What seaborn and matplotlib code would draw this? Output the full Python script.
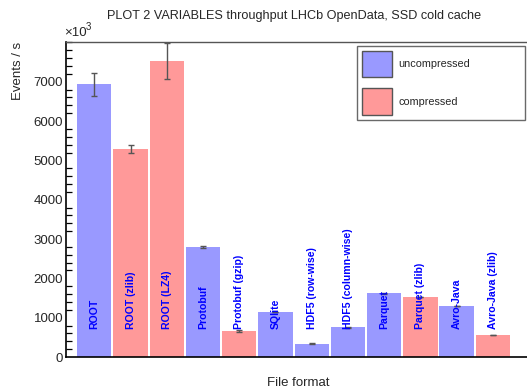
import pandas as pd
import matplotlib
matplotlib.use("Agg")
import matplotlib.pyplot as plt
import seaborn as sns
from matplotlib.patches import Patch

# values
formats = ["ROOT", "ROOT (zlib)", "ROOT (LZ4)", "Protobuf", "Protobuf (gzip)",
           "SQlite", "HDF5 (row-wise)", "HDF5 (column-wise)", "Parquet",
           "Parquet (zlib)", "Avro-Java", "Avro-Java (zlib)"]
kinds = ["uncompressed", "compressed", "compressed", "uncompressed", "compressed",
         "uncompressed", "uncompressed", "uncompressed", "uncompressed",
         "compressed", "uncompressed", "compressed"]
events = [6930, 5290, 7520, 2800, 660, 1145, 340, 760, 1620, 1525, 1295, 560]
errors = [290, 90, 460, 35, 15, 10, 15, 10, 10, 10, 10, 10]

colors = {"uncompressed": "#9999ff", "compressed": "#ff9999"}

df = pd.DataFrame({"format": formats, "kind": kinds, "events": events})

sns.set_theme(style="white")
plt.rcParams["font.family"] = ["Liberation Sans", "DejaVu Sans"]

fig = plt.figure(figsize=(5.27, 3.91), dpi=100)
ax = fig.add_axes([66 / 527, 1 - 357 / 391, 461 / 527, 315 / 391])

sns.barplot(data=df, x="format", y="events", hue="kind", palette=colors,
            dodge=False, width=0.95, ax=ax, legend=False, linewidth=0,
            saturation=1, order=formats)

ax.errorbar(range(len(formats)), events, yerr=errors, fmt="none",
            ecolor="#555555", elinewidth=1, capsize=2, capthick=1, zorder=5)

for i, name in enumerate(formats):
    ax.text(i, 710, name, rotation=90, ha="center", va="bottom",
            color="#0000ff", fontweight="bold", fontsize=7.6, zorder=6)

ax.set_xlim(-0.78, 11.94)
ax.set_ylim(0, 8010)
ax.set_xlabel("")
ax.set_ylabel("")
ax.set_xticks(range(len(formats)))
ax.set_xticklabels([])
ax.tick_params(axis="x", direction="in", length=2, color="#888888")
ax.set_yticks(range(0, 8000, 1000))
ax.set_yticks(range(0, 8001, 200), minor=True)
ax.tick_params(axis="y", which="major", direction="in", length=7, width=1,
               labelsize=9.5, pad=2, color="black")
ax.tick_params(axis="y", which="minor", direction="in", length=4.5, width=0.9,
               color="black", left=True)
for side in ["left", "bottom"]:
    ax.spines[side].set_color("black")
    ax.spines[side].set_linewidth(1.2)
ax.spines["top"].set_color("#555555")
ax.spines["top"].set_linewidth(1.0)
ax.spines["right"].set_visible(False)

handles = [Patch(facecolor=colors["uncompressed"], edgecolor="#555555", label="uncompressed"),
           Patch(facecolor=colors["compressed"], edgecolor="#555555", label="compressed")]
leg = ax.legend(handles=handles, loc="upper left", mode="expand",
                bbox_to_anchor=((357 - 66) / 461, (357 - 46) / 315, 168 / 461, 0),
                bbox_transform=ax.transAxes, fontsize=7.8, frameon=True,
                fancybox=False, handlelength=2.8, handleheight=3.4,
                labelspacing=1.0, borderpad=0.45, handletextpad=0.6,
                borderaxespad=0)
leg.get_frame().set_edgecolor("#444444")
leg.get_frame().set_linewidth(1.0)

fig.text(294.5 / 527, 1 - 16 / 391,
         "PLOT 2 VARIABLES throughput LHCb OpenData, SSD cold cache",
         ha="center", va="center", fontsize=9.1)
fig.text(18 / 527, 1 - 42 / 391, "Events / s", rotation=90, ha="center",
         va="top", fontsize=9.5)
fig.text(64 / 527, 1 - 35.5 / 391, "×10", ha="left", va="baseline", fontsize=9.5)
fig.text(85.5 / 527, 1 - 30 / 391, "3", ha="left", va="baseline", fontsize=7)
fig.text(298 / 527, 1 - 383 / 391, "File format", ha="center", va="center",
         fontsize=9.5)

fig.savefig("out.png", dpi=100)
